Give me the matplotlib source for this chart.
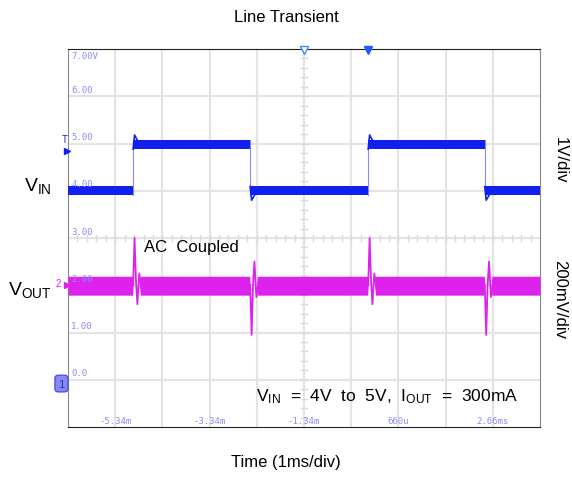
import numpy as np
import matplotlib.pyplot as plt

plt.rcParams['font.family'] = ['Liberation Sans', 'DejaVu Sans']
plt.rcParams['mathtext.fontset'] = 'custom'
plt.rcParams['mathtext.rm'] = 'Liberation Sans'

# screen is 10 x 8 divisions, 1ms/div; y in scope volts (1 unit = 1 div)
vin_edges = [1.38, 3.86, 6.36, 8.83]          # rise, fall, rise, fall (div)
vin_low_band = [3.90, 4.09]
vin_high_band = [4.88, 5.08]
vout_band = [1.79, 2.19]

# transient shape after each VIN edge (offset in div, level)
rise_dt = [0.0, 0.03, 0.06, 0.09, 0.13, 0.18, 0.25]
rise_v = [2.0, 3.0, 2.1, 1.6, 2.25, 1.9, 2.0]
fall_dt = [0.0, 0.03, 0.06, 0.09, 0.13, 0.18, 0.25]
fall_v = [2.0, 0.95, 2.0, 2.5, 1.75, 2.1, 2.0]

volt_labels = ['7.00V', '6.00', '5.00', '4.00', '3.00', '2.00', '1.00', '0.0']
time_labels = ['-5.34m', '-3.34m', '-1.34m', '660u', '2.66ms']

blue = '#1020f0'
magenta = '#dd22ee'
scope_txt = '#8c8cf0'

fig = plt.figure(figsize=(5.72, 4.81), dpi=100)
ax = fig.add_axes([68 / 572, 53 / 481, 472 / 572, 378 / 481])
ax.set_xlim(0, 10)
ax.set_ylim(-1, 7)
ax.set_xticks([])
ax.set_yticks([])
for s in ['left', 'right']:
    ax.spines[s].set_color('#888888')
for s in ['top', 'bottom']:
    ax.spines[s].set_color('#222222')

# grid
for gx in range(1, 10):
    ax.axvline(gx, color='#e4e4e4', lw=1.6, zorder=0)
for gy in range(0, 7):
    ax.axhline(gy, color='#e4e4e4', lw=1.6, zorder=0)
# centre axis ticks
for t in np.arange(0.2, 10, 0.2):
    ax.plot([t, t], [2.93, 3.07], color='#dadada', lw=1, zorder=0)
for t in np.arange(-0.8, 7, 0.2):
    ax.plot([4.93, 5.07], [t, t], color='#dadada', lw=1, zorder=0)

# VIN band
xs = [0.0]
lo = [vin_low_band[0]]
hi = [vin_low_band[1]]
state = 0
for e in vin_edges:
    band_now = vin_high_band if state else vin_low_band
    xs += [e]
    lo += [band_now[0]]
    hi += [band_now[1]]
    state = 1 - state
    band_new = vin_high_band if state else vin_low_band
    xs += [e]
    lo += [band_new[0]]
    hi += [band_new[1]]
xs += [10.0]
band_end = vin_high_band if state else vin_low_band
lo += [band_end[0]]
hi += [band_end[1]]
ax.fill_between(xs, lo, hi, color=blue, lw=0, zorder=3)
for i, e in enumerate(vin_edges):
    ax.plot([e, e], [3.9, 5.08], color=blue, lw=0.8, alpha=0.5, zorder=3)
    if i % 2 == 0:
        ax.plot([e, e + 0.03, e + 0.1], [4.88, 5.18, 5.05], color=blue, lw=1.2, zorder=3)
    else:
        ax.plot([e, e + 0.03, e + 0.1], [4.09, 3.8, 3.92], color=blue, lw=1.2, zorder=3)

# VOUT band
vx = [0.0]
vlo = [vout_band[0]]
vhi = [vout_band[1]]
for e in vin_edges:
    vx += [e - 0.01, e, e + 0.14, e + 0.15]
    vlo += [vout_band[0], 2.0, 2.0, vout_band[0]]
    vhi += [vout_band[1], 2.0, 2.0, vout_band[1]]
vx += [10.0]
vlo += [vout_band[0]]
vhi += [vout_band[1]]
ax.fill_between(vx, vlo, vhi, color=magenta, lw=0, zorder=3)
for i, e in enumerate(vin_edges):
    if i % 2 == 0:
        dts, vs = rise_dt, rise_v
    else:
        dts, vs = fall_dt, fall_v
    ax.plot([e + d for d in dts], vs, color=magenta, lw=1.3, zorder=4)

# scope annotations
for i, lab in enumerate(volt_labels):
    if i == 0:
        ax.text(0.07, 6.95, lab, color=scope_txt, fontsize=6.5,
                family='DejaVu Sans Mono', va='top', ha='left', zorder=5)
    else:
        ax.text(0.07, 7 - i + 0.05, lab, color=scope_txt, fontsize=6.5,
                family='DejaVu Sans Mono', va='bottom', ha='left', zorder=5)
for i, lab in enumerate(time_labels):
    ax.text(1 + 2 * i, -0.86, lab, color=scope_txt, fontsize=6.5,
            family='DejaVu Sans Mono', ha='center', va='center', zorder=5)

ax.plot([5.0], [6.97], marker='v', ms=6, mfc='white', mec='#4488ff', clip_on=False, zorder=6)
ax.plot([6.36], [6.97], marker='v', ms=6, color='#1e5aff', clip_on=False, zorder=6)
ax.plot([-0.03], [4.85], marker='>', ms=4, color=blue, clip_on=False, zorder=6)
ax.text(-0.07, 5.1, 'T', color=blue, fontsize=7, ha='center', va='center', zorder=6)
ax.plot([-0.03], [2.0], marker='>', ms=4, color=magenta, clip_on=False, zorder=6)
ax.text(-0.2, 2.05, '2', color=magenta, fontsize=7, ha='center', va='center', zorder=6)
ax.text(-0.14, -0.08, '1', color='#2233bb', fontsize=8, ha='center', va='center',
        bbox=dict(boxstyle='round,pad=0.3', fc='#8888f0', ec='#4455ee'), zorder=6)

ax.text(1.62, 2.82, 'AC  Coupled', fontsize=12, ha='left', va='center', zorder=6)
ax.text(3.98, -0.33, r'$\mathregular{V_{IN}}$  =  4V  to  5V,  $\mathregular{I_{OUT}}$  =  300mA',
        fontsize=12.5, ha='left', va='center', zorder=6)

fig.text(0.5, 1 - 17 / 481, 'Line Transient', fontsize=12, ha='center', va='center')
fig.text(0.5, 1 - 463 / 481, 'Time (1ms/div)', fontsize=12, ha='center', va='center')
fig.text(560 / 572, 1 - 160 / 481, '1V/div', fontsize=12, rotation=270, ha='center', va='center')
fig.text(560 / 572, 1 - 300 / 481, '200mV/div', fontsize=12, rotation=270, ha='center', va='center')
fig.text(38 / 572, 1 - 186 / 481, r'$\mathregular{V_{IN}}$', fontsize=14, ha='center', va='center')
fig.text(30 / 572, 1 - 290 / 481, r'$\mathregular{V_{OUT}}$', fontsize=14, ha='center', va='center')

fig.savefig('out.png', dpi=100)
